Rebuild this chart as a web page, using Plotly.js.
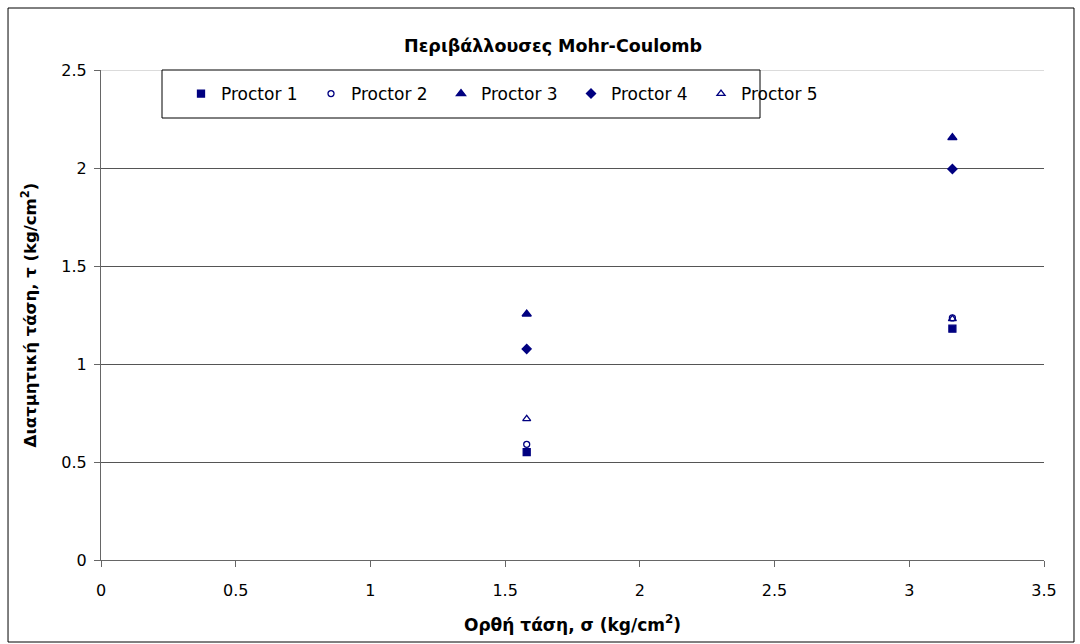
<!DOCTYPE html>
<html>
<head>
<meta charset="utf-8">
<script src="https://cdn.plot.ly/plotly-3.0.1.min.js"></script>
<style>html,body{margin:0;padding:0;background:#fff;}#chart{width:1080px;height:644px;}</style>
</head>
<body>
<div id="chart"></div>
<script>
const seriesNames = ["Proctor 1", "Proctor 2", "Proctor 3", "Proctor 4", "Proctor 5"];
const sigma = [1.58, 3.16];
const tau1 = [0.55, 1.18];
const tau2 = [0.59, 1.235];
const tau3 = [1.255, 2.155];
const tau4 = [1.077, 1.995];
const tau5 = [0.72, 1.23];
const xTicks = [0, 0.5, 1, 1.5, 2, 2.5, 3, 3.5];
const yTicks = [0, 0.5, 1, 1.5, 2, 2.5];

const navy = "#000080";
const FONT = "DejaVu Sans, Verdana, sans-serif";
const symbols = ["square", "circle-open", "triangle-up", "diamond", "triangle-up-open"];
const sizes = [7, 6, 8, 7, 7];
const allTau = [tau1, tau2, tau3, tau4, tau5];

const traces = allTau.map((t, i) => ({
  type: "scatter",
  mode: "markers",
  name: seriesNames[i],
  x: sigma,
  y: t,
  marker: {symbol: symbols[i], size: sizes[i], color: navy, line: {color: navy, width: 1.3}}
}));

const layout = {
  width: 1080, height: 644,
  margin: {l: 101, r: 36, t: 70, b: 84},
  paper_bgcolor: "#fff", plot_bgcolor: "#fff",
  font: {family: FONT, size: 16, color: "#000"},
  title: {text: "<b>Περιβάλλουσες Mohr-Coulomb</b>", x: 553 / 1080, xanchor: "center", y: 1 - 46 / 644, yanchor: "middle", font: {size: 17.5, family: FONT}},
  xaxis: {
    range: [0, 3.5], tickvals: xTicks, ticktext: xTicks.map(String),
    showgrid: false, zeroline: false, showline: true, linecolor: "#666", linewidth: 1,
    ticks: "outside", ticklen: 6, tickcolor: "#666", ticklabelstandoff: 10,
    tickfont: {size: 16},
    title: {text: "<b>Ορθή τάση, σ (kg/cm<sup>2</sup>)</b>", font: {size: 17}, standoff: 19}
  },
  yaxis: {
    range: [0, 2.5], tickvals: yTicks, ticktext: yTicks.map(String),
    showgrid: true, gridcolor: "#555", gridwidth: 1, zeroline: false,
    showline: true, linecolor: "#666", linewidth: 1,
    ticks: "outside", ticklen: 6, tickcolor: "#666", ticklabelstandoff: 4,
    tickfont: {size: 16},
    title: {text: "<b>Διατμητική τάση, τ (kg/cm<sup>2</sup>)</b>", font: {size: 16.5}, standoff: 20}
  },
  showlegend: true,
  legend: {
    orientation: "h", x: (181 - 101) / 943, xanchor: "left", y: (560 - 94) / 490, yanchor: "middle",
    bgcolor: "rgba(0,0,0,0)", borderwidth: 0,
    font: {size: 17}, entrywidth: 85, entrywidthmode: "pixels", itemwidth: 30,
    tracegroupgap: 0
  },
  shapes: [
    {type: "line", xref: "paper", yref: "y", x0: 0, x1: 1, y0: 2.5, y1: 2.5,
     line: {color: "#cfcfcf", width: 1.5}, layer: "above"},
    {type: "rect", xref: "paper", yref: "paper",
     x0: (162 - 101) / 943, x1: (760 - 101) / 943, y0: (560 - 118) / 490, y1: (560 - 70) / 490,
     line: {color: "#000", width: 1}, fillcolor: "#fff", layer: "above"},
    {type: "rect", xref: "paper", yref: "paper",
     x0: -0.0986, x1: 1.0318, y0: (560 - 642) / 490, y1: 1.1265,
     line: {color: "#000", width: 1}, fillcolor: "rgba(0,0,0,0)"}
  ]
};

Plotly.newPlot("chart", traces, layout, {displayModeBar: false, staticPlot: true});
</script>
</body>
</html>
